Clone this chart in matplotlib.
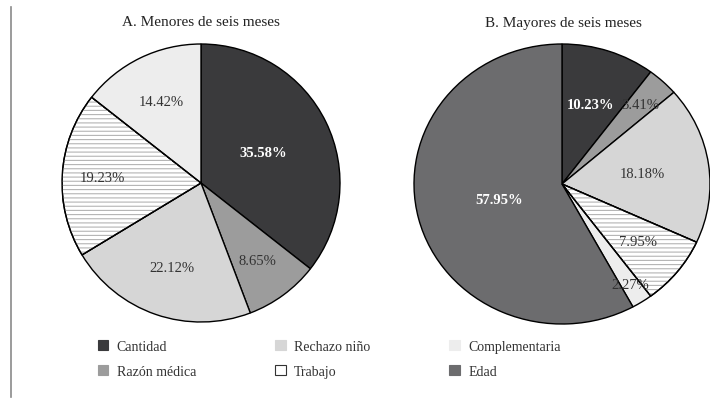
import numpy as np
import matplotlib
matplotlib.use("Agg")
import matplotlib.pyplot as plt
from matplotlib.patches import Patch, Wedge

plt.rcParams["font.family"] = ["Liberation Serif", "DejaVu Serif"]
plt.rcParams["hatch.linewidth"] = 0.8

categories = ["Cantidad", "Razón médica", "Rechazo niño", "Trabajo",
              "Complementaria", "Edad"]
colors = ["#3a3a3c", "#9c9c9c", "#d6d6d6", "#ffffff", "#ededed", "#6c6c6e"]

# panel A (no "Edad" slice)
vals_a = [35.58, 8.65, 22.12, 19.23, 14.42]
# panel B
vals_b = [10.23, 3.41, 18.18, 7.95, 2.27, 57.95]

title_a = "A. Menores de seis meses"
title_b = "B. Mayores de seis meses"

W, H = 710, 402
fig = plt.figure(figsize=(W / 100, H / 100), dpi=100)


def px_axes(x0, y0, x1, y1):
    return fig.add_axes([x0 / W, 1 - y1 / H, (x1 - x0) / W, (y1 - y0) / H])


def draw_pie(ax, vals, label_r, bold):
    wedges, _ = ax.pie(vals, colors=colors[:len(vals)], startangle=90,
                       counterclock=False, radius=1,
                       wedgeprops=dict(edgecolor="black", linewidth=1.0))
    for i, w in enumerate(wedges):
        if categories[i] == "Trabajo":
            ax.add_patch(Wedge(w.center, w.r, w.theta1, w.theta2,
                               facecolor="none", edgecolor="#b4b4b4",
                               hatch="----", linewidth=0, zorder=w.get_zorder() + 0.1))
            ax.add_patch(Wedge(w.center, w.r, w.theta1, w.theta2,
                               facecolor="none", edgecolor="black",
                               linewidth=1.0, zorder=w.get_zorder() + 0.2))
        mid = np.deg2rad((w.theta1 + w.theta2) / 2)
        r = label_r[i]
        white = i in bold
        ax.text(r * np.cos(mid), r * np.sin(mid), f"{vals[i]:.2f}%",
                ha="center", va="center", fontsize=10.5,
                color="white" if white else "#333333",
                fontweight="bold" if white else "normal", zorder=10)
    ax.set_aspect("auto")
    ax.set_xlim(-1, 1)
    ax.set_ylim(-1, 1)
    ax.axis("off")


ax_a = px_axes(62, 45, 340, 323)
draw_pie(ax_a, vals_a, [0.5, 0.69, 0.64, 0.71, 0.65], bold={0})
ax_b = px_axes(414, 45, 710, 325)
draw_pie(ax_b, vals_b, [0.6, 0.78, 0.55, 0.66, 0.85, 0.44], bold={0, 5})

fig.text(201 / W, 1 - 23 / H, title_a, ha="center", va="center",
         fontsize=11, color="#222222")
fig.text(563 / W, 1 - 23 / H, title_b, ha="center", va="center",
         fontsize=11, color="#222222")

handles = []
for c, col in zip(categories, colors):
    ec = "#333333" if c == "Trabajo" else col
    handles.append(Patch(facecolor=col, edgecolor=ec, linewidth=0.8, label=c))
fig.legend(handles=handles, loc="upper left", ncol=3,
           bbox_to_anchor=(98 / W, 1 - 341 / H), frameon=False,
           fontsize=10, handlelength=0.75, handleheight=0.75,
           handletextpad=0.6, columnspacing=5.7, labelspacing=0.85,
           borderpad=0, borderaxespad=0, labelcolor="#333333")

fig.add_artist(plt.Line2D([10.5 / W, 10.5 / W], [1 - 8 / H, 1 - 398 / H],
                          color="#8a8a8a", linewidth=1.2))

fig.savefig("out.png", dpi=100)
